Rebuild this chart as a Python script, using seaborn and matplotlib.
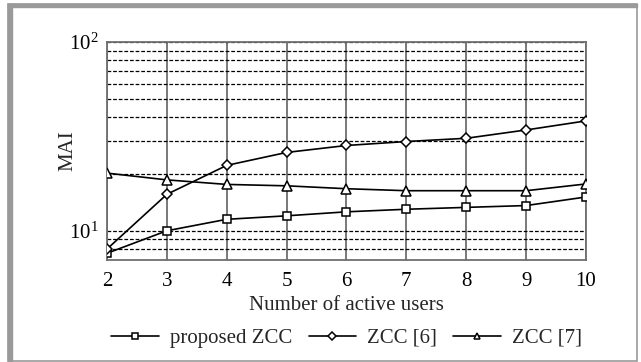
import matplotlib
matplotlib.use("Agg")
import matplotlib.pyplot as plt
import seaborn as sns
import pandas as pd
from matplotlib.ticker import FixedLocator, NullFormatter
from matplotlib.patches import Rectangle

# Data
users = [2, 3, 4, 5, 6, 7, 8, 9, 10]
proposed_zcc = [7.6, 10.0, 11.5, 12.0, 12.6, 13.0, 13.3, 13.6, 15.1]
zcc_6 = [8.0, 15.6, 22.2, 26.0, 28.3, 29.7, 30.9, 34.2, 38.2]
zcc_7 = [20.2, 18.6, 17.6, 17.3, 16.7, 16.3, 16.3, 16.3, 17.7]
series_names = ["proposed ZCC", "ZCC [6]", "ZCC [7]"]
markers = ["s", "D", "^"]
marker_sizes = [6, 5, 6.5]

df = pd.concat([
    pd.DataFrame({"users": users, "MAI": vals, "scheme": name})
    for name, vals in zip(series_names, [proposed_zcc, zcc_6, zcc_7])
])

sns.set_theme(style="white")
plt.rcParams["font.family"] = ["Liberation Serif", "DejaVu Serif"]
plt.rcParams["mathtext.fontset"] = "custom"
plt.rcParams["mathtext.rm"] = "Liberation Serif"
plt.rcParams["mathtext.it"] = "Liberation Serif:italic"

fig = plt.figure(figsize=(6.41, 3.62), dpi=100)
ax = fig.add_axes([107 / 641, 1 - 260 / 362, 479 / 641, 218 / 362])

for name, mk, ms in zip(series_names, markers, marker_sizes):
    sub = df[df["scheme"] == name]
    sns.lineplot(data=sub, x="users", y="MAI", ax=ax, color="black",
                 linewidth=1.2, marker=mk, markersize=ms,
                 markerfacecolor="white", markeredgecolor="black",
                 markeredgewidth=1.1, label=name, zorder=3)

ax.set_yscale("log")
ax.set_ylim(7, 100)
ax.set_xlim(2, 10)
ax.set_xticks(users)
ax.set_xticklabels([str(u) for u in users])
ax.yaxis.set_major_locator(FixedLocator([10, 100]))
ax.set_yticklabels([r"$10^1$", r"$10^2$"])
ax.yaxis.set_minor_locator(FixedLocator([8, 9, 20, 30, 40, 50, 60, 70, 80, 90]))
ax.yaxis.set_minor_formatter(NullFormatter())
ax.tick_params(axis="both", which="both", length=0, labelsize=15, colors="black")
ax.tick_params(axis="x", pad=9)
ax.tick_params(axis="y", pad=6)

# grid: solid verticals, dashed horizontals
ax.grid(True, axis="x", color="#6e6e6e", linewidth=1.3, linestyle="-")
ax.grid(True, axis="y", which="both", color="black", linewidth=0.9,
        linestyle=(0, (3, 1.5)))
ax.set_axisbelow(True)
for s in ax.spines.values():
    s.set_color("#6e6e6e")
    s.set_linewidth(1.3)

ax.set_xlabel("Number of active users", fontsize=15, labelpad=3)
ax.set_ylabel("MAI", fontsize=15)
ax.yaxis.set_label_coords(-0.062, 0.5)

leg = ax.legend(loc="upper center", bbox_to_anchor=(0.5, -0.275), ncol=3,
                frameon=False, fontsize=15, handlelength=2.3,
                columnspacing=0.8, handletextpad=0.5, borderaxespad=0)
for h in leg.legend_handles:
    h.set_markersize(4.5)

# outer frame
fig.patches.append(Rectangle((8 / 641, 1 / 362), 629 / 641, 357 / 362,
                             transform=fig.transFigure, fill=False,
                             edgecolor="#9a9a9a", linewidth=1.2))
fig.patches.append(Rectangle((8 / 641, 1 - 7 / 362), 629 / 641, 3 / 362,
                             transform=fig.transFigure, color="#9a9a9a"))
fig.patches.append(Rectangle((8 / 641, 1 / 362), 4 / 641, 357 / 362,
                             transform=fig.transFigure, color="#9a9a9a"))

fig.savefig("out.png", dpi=100, facecolor="white")
